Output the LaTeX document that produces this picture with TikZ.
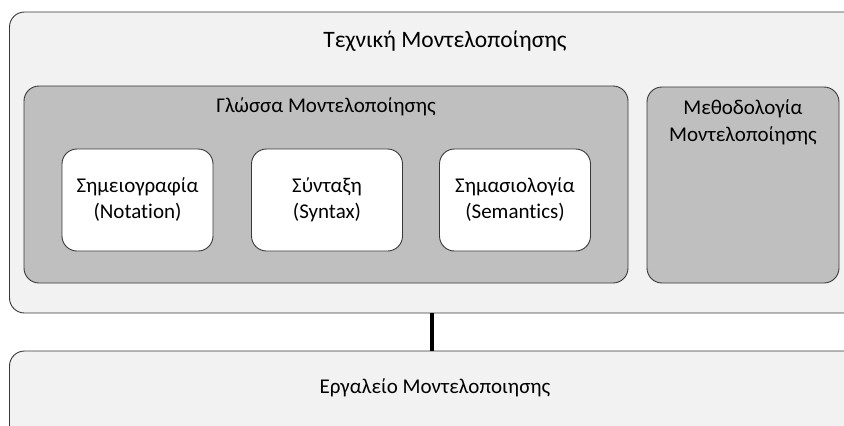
\documentclass[tikz,border=0pt]{standalone}
\usepackage{fontspec}
\setmainfont{Carlito}[Ligatures=CommonOff]
\begin{document}
\begin{tikzpicture}[x=1pt,y=-1pt,
  frame/.style={draw=black!78, line width=0.9pt, rounded corners=15pt,
    inner sep=0pt, outer sep=0pt},
  outerbox/.style={frame, fill=black!5},
  greybox/.style={frame, fill=black!25},
  partbox/.style={frame, fill=white, minimum width=151pt, minimum height=102pt,
    align=center, font=\fontsize{21}{26}\selectfont},
  lbl/.style={align=center, inner sep=0pt, font=\fontsize{21}{27}\selectfont},
  bigl/.style={align=center, inner sep=0pt, font=\fontsize{23.5}{29}\selectfont},
  link/.style={line width=3.5pt, black}]
\useasboundingbox (0,0) rectangle (844,426);
\clip (0,0) rectangle (844,426);

% outer frame: modelling technique
\node[outerbox, minimum width=861pt, minimum height=301pt] (tech) at (440,162.5) {};
% modelling tool underneath
\node[outerbox, minimum width=861pt, minimum height=120pt] (tool) at (440,411) {};

% modelling language
\node[greybox, minimum width=604pt, minimum height=197pt] (lang) at (326,184.5) {};
% modelling methodology
\node[greybox, minimum width=192pt, minimum height=196pt] (meth) at (743,185) {};

% components of the language
\node[partbox] (notation) at (137.5,200) {Σημειογραφία\\(Notation)};
\node[partbox] (syntax) at (327,200) {Σύνταξη\\(Syntax)};
\node[partbox] (semantics) at (515,200) {Σημασιολογία\\(Semantics)};

% titles
\node[bigl] (techlbl) at (445,41) {Τεχνική Μοντελοποίησης};
\node[lbl] (langlbl) at (326,107) {Γλώσσα Μοντελοποίησης};
\node[lbl] (methlbl) at (743,122) {Μεθοδολογία\\Μοντελοποίησης};
\node[lbl] (toollbl) at (435,388) {Εργαλείο Μοντελοποιησης};

% link between technique and tool
\coordinate (lx) at (432,0);
\draw[link] (tech.south -| lx) -- (tool.north -| lx);
\end{tikzpicture}
\end{document}
